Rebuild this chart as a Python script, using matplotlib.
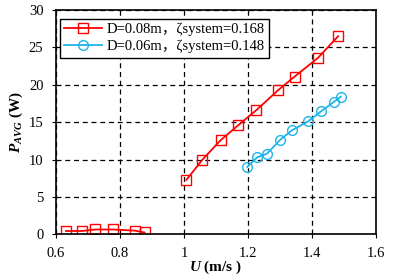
import matplotlib
matplotlib.use('Agg')
import matplotlib.pyplot as plt

plt.rcParams['font.family'] = ['Liberation Serif', 'Noto Sans CJK SC']
plt.rcParams['mathtext.fontset'] = 'custom'
plt.rcParams['mathtext.rm'] = 'Liberation Serif'
plt.rcParams['mathtext.it'] = 'Liberation Serif:italic'
plt.rcParams['mathtext.bf'] = 'Liberation Serif:bold'
plt.rcParams['mathtext.bfit'] = 'Liberation Serif:bold:italic'

# ── Data ────────────────────────────────────────────────────────────────
u_low_08 = [0.631, 0.681, 0.723, 0.779, 0.846, 0.877]
p_low_08 = [0.45, 0.45, 0.65, 0.65, 0.5, 0.25]
u_high_08 = [1.008, 1.058, 1.115, 1.170, 1.226, 1.295, 1.346, 1.419, 1.482]
p_high_08 = [7.3, 10.0, 12.6, 14.6, 16.6, 19.3, 21.1, 23.6, 26.5]
u_06 = [1.198, 1.229, 1.260, 1.300, 1.337, 1.388, 1.430, 1.468, 1.490]
p_06 = [9.0, 10.3, 10.8, 12.6, 13.9, 15.1, 16.5, 17.7, 18.4]

labels = ['D=0.08m，ζsystem=0.168', 'D=0.06m，ζsystem=0.148']
RED = '#FF0000'
BLUE = '#1EB4E8'

# ── Figure ──────────────────────────────────────────────────────────────
fig = plt.figure(figsize=(3.94, 2.79), dpi=100)
ax = fig.add_axes([0.142, 0.160, 0.812, 0.804])

mk = dict(markersize=7, markerfacecolor='none', markeredgewidth=1.0, linewidth=1.3)
ax.plot(u_low_08, p_low_08, '-s', color=RED, **mk)
ax.plot(u_high_08, p_high_08, '-s', color=RED, label=labels[0], **mk)
ax.plot(u_06, p_06, '-o', color=BLUE, label=labels[1], **mk)

ax.set_xlim(0.6, 1.6)
ax.set_ylim(0, 30)
ax.set_xticks([0.6, 0.8, 1.0, 1.2, 1.4, 1.6])
ax.set_xticklabels(['0.6', '0.8', '1', '1.2', '1.4', '1.6'])
ax.set_yticks(range(0, 31, 5))
ax.grid(True, color='black', linestyle=(0, (4, 3)), linewidth=0.9)
ax.tick_params(labelsize=10.5, length=3, width=0.8, direction='out', pad=6)
for s in ax.spines.values():
    s.set_linewidth(1.2)

ax.set_xlabel(r'$\boldsymbol{U}$ (m/s )', fontsize=11, fontweight='bold', labelpad=-1)
ax.set_ylabel(r'$\boldsymbol{P}_{\boldsymbol{AVG}}$ (W)', fontsize=11, fontweight='bold', labelpad=3)

leg = ax.legend(loc='upper left', bbox_to_anchor=(0.013, 0.962), fontsize=10.5,
                frameon=True, fancybox=False, edgecolor='black', framealpha=1,
                borderpad=0.3, handlelength=2.6, handletextpad=0.3,
                labelspacing=0.25, borderaxespad=0)
leg.get_frame().set_linewidth(1.0)

fig.savefig('out.png', dpi=100)
